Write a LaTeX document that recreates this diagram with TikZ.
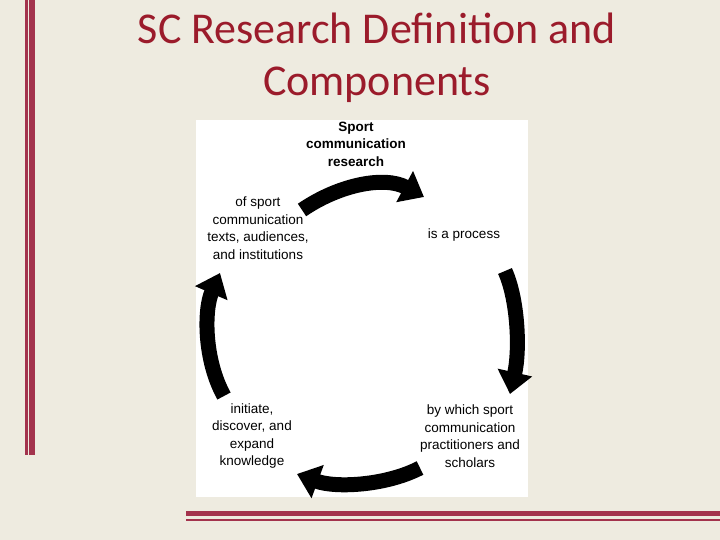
\documentclass[tikz,border=0pt]{standalone}
\usepackage{fontspec}
\setmainfont{Liberation Sans}
\newfontfamily\titlefont{Carlito}
\usetikzlibrary{arrows.meta}
\definecolor{bg}{HTML}{EEEBE0}
\definecolor{bar}{HTML}{A3334D}
\definecolor{ttl}{HTML}{9B1B2B}
\tikzset{
  lbl/.style={align=center,font=\fontsize{13.5}{17.5}\selectfont,inner sep=0pt},
  cyc/.style={line width=15pt,-{Triangle[length=22pt,width=34pt]}}
}
\begin{document}
\begin{tikzpicture}[x=1pt,y=-1pt]
\fill[bg] (0,0) rectangle (720,540);
\useasboundingbox (0,0) rectangle (720,540);
\fill[bar] (25,0) rectangle (27.5,455);
\fill[bar] (29,0) rectangle (35,455);
\fill[bar] (186,511) rectangle (720,516);
\fill[bar] (186,519) rectangle (720,521);
\node[font=\titlefont\fontsize{44}{52}\selectfont,text=ttl,align=center,inner sep=0pt] (title) at (377,58) {SC Research Definition and\\Components};
\fill[white] (196,120) rectangle (528,497);
\node[lbl,font=\bfseries\fontsize{13.5}{17.5}\selectfont] (a) at (356,144) {Sport\\communication\\research};
\node[lbl] (b) at (464,235) {is a process};
\node[lbl] (c) at (470,436) {by which sport\\communication\\practitioners and\\scholars};
\node[lbl] (d) at (252,436) {initiate,\\discover, and\\expand\\knowledge};
\node[lbl] (e) at (258,228) {of sport\\communication\\texts, audiences,\\and institutions};
\coordinate (t1) at (302,210); \coordinate (t2) at (424,197);
\coordinate (r1) at (505,271); \coordinate (r2) at (510,394);
\coordinate (b1) at (420,468); \coordinate (b2) at (297,474);
\coordinate (l1) at (224,396); \coordinate (l2) at (220,273);
\draw[cyc] (t1) .. controls (340,184) and (385,176) .. (t2);
\draw[cyc] (r1) .. controls (518,300) and (520,350) .. (r2);
\draw[cyc] (b1) .. controls (385,486) and (335,488) .. (b2);
\draw[cyc] (l1) .. controls (204,360) and (204,310) .. (l2);
\end{tikzpicture}
\end{document}
